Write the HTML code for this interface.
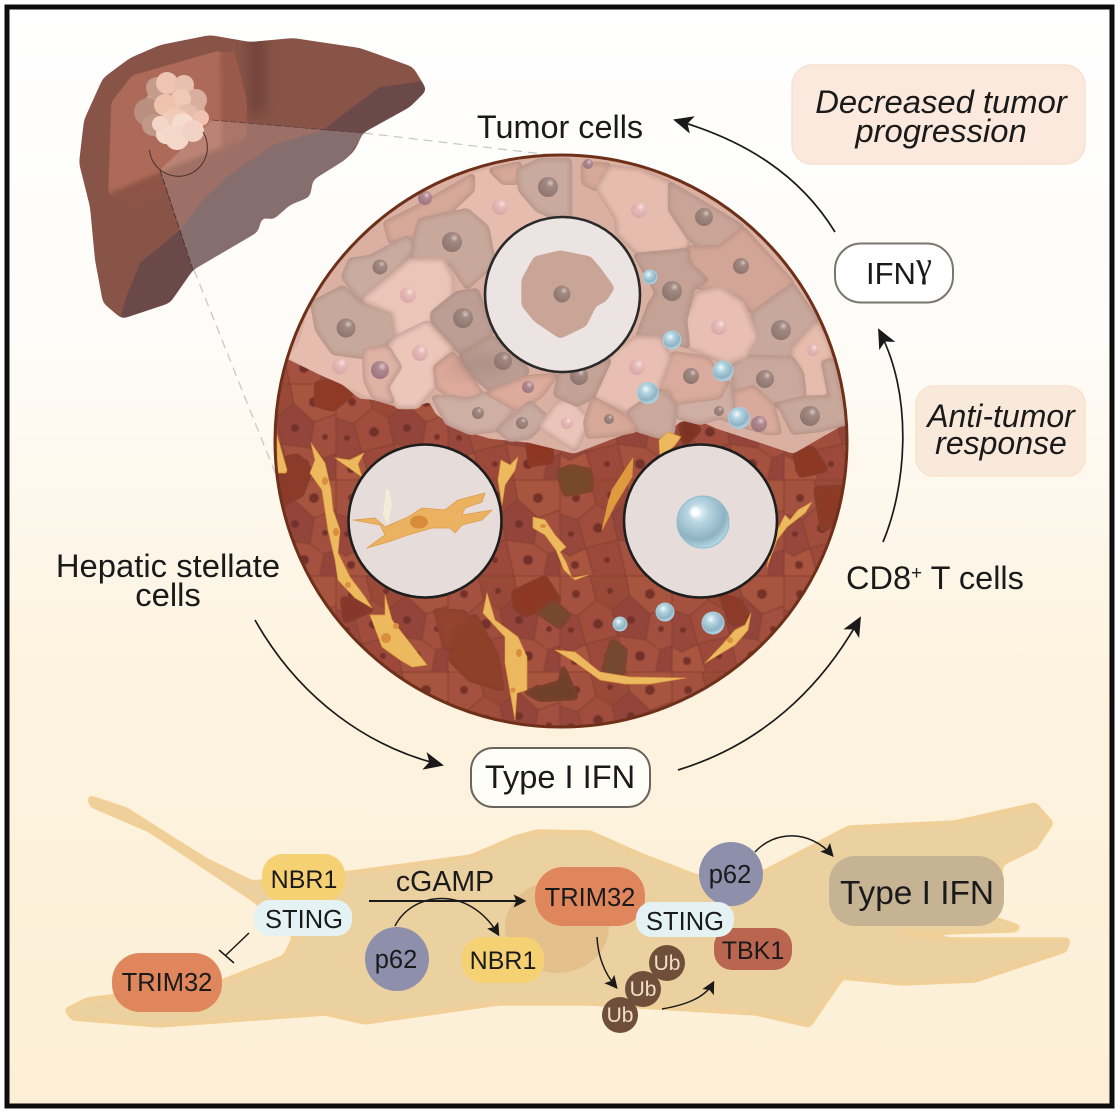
<!DOCTYPE html>
<html><head><meta charset="utf-8"><style>
html,body{margin:0;padding:0;background:#fff}
svg{display:block}
text{font-family:"Liberation Sans",Arial,sans-serif;fill:#1a1a1a}
.n{text-anchor:middle;font-size:25.5px}
.g{filter:url(#goo)}
.u{fill:#f2dfc4;font-size:21px;text-anchor:middle}
</style></head><body>
<svg width="1120" height="1116" viewBox="0 0 1120 1116" xmlns="http://www.w3.org/2000/svg">
<defs>
<linearGradient id="bg" x1="0" y1="0" x2="0" y2="1"><stop offset="0" stop-color="#ffffff"/><stop offset=".3" stop-color="#fefcf8"/><stop offset=".6" stop-color="#fdf3e0"/><stop offset="1" stop-color="#fdefd6"/></linearGradient>
<clipPath id="cc"><circle cx="561" cy="441" r="286"/></clipPath>
<filter id="goo" x="-10%" y="-10%" width="120%" height="120%" color-interpolation-filters="sRGB"><feGaussianBlur stdDeviation="2"/><feColorMatrix type="matrix" values="1 0 0 0 0 0 1 0 0 0 0 0 1 0 0 0 0 0 14 -2.5"/></filter>
<filter id="goo2" x="-10%" y="-10%" width="120%" height="120%" color-interpolation-filters="sRGB"><feGaussianBlur stdDeviation="3.5"/><feColorMatrix type="matrix" values="1 0 0 0 0 0 1 0 0 0 0 0 1 0 0 0 0 0 18 -8.5"/></filter>
<mask id="liverm" maskUnits="userSpaceOnUse" x="0" y="0" width="1120" height="1116"><path filter="url(#goo2)" fill="#fff" d="M79 163L84 120L103 78L130 58L160 45L210 35L250 42L293 38L360 48L413 67L427 90L410 107L363 133L355 150L345 160L313 180L310 197L290 205L273 220L262 217L258 232L193 270L170 303L122 319L103 303L95 260L90 207Z"/></mask>
<marker id="ab" viewBox="0 0 10 10" refX="9" refY="5" markerWidth="20" markerHeight="20" orient="auto" markerUnits="userSpaceOnUse"><path d="M0 0.5L10 5L0 9.5L2.5 5Z" fill="#1a1a1a"/></marker>
<marker id="am" viewBox="0 0 10 10" refX="8" refY="5" markerWidth="13" markerHeight="13" orient="auto" markerUnits="userSpaceOnUse"><path d="M0 0L10 5L0 10L2 5Z" fill="#1a1a1a"/></marker>
<pattern id="lc" width="112" height="96" patternUnits="userSpaceOnUse">
<rect width="112" height="96" fill="#9f4c3d"/>
<g stroke="#84402f" stroke-width="1">
<polygon points="0,0 30,0 36,24 18,40 0,34" fill="#a5513f"/>
<polygon points="30,0 66,0 70,20 52,34 36,24" fill="#9a4838"/>
<polygon points="66,0 112,0 112,30 90,38 70,20" fill="#a8553f"/>
<polygon points="0,34 18,40 26,68 10,76 0,70" fill="#97473a"/>
<polygon points="18,40 36,24 52,34 58,60 26,68" fill="#a14e3e"/>
<polygon points="52,34 70,20 90,38 86,64 58,60" fill="#93443a"/>
<polygon points="90,38 112,30 112,70 100,74 86,64" fill="#a35040"/>
<polygon points="0,70 10,76 26,68 34,96 0,96" fill="#a9553f"/>
<polygon points="26,68 58,60 66,96 34,96" fill="#9c4a3a"/>
<polygon points="58,60 86,64 100,74 96,96 66,96" fill="#a5513f"/>
<polygon points="100,74 112,70 112,96 96,96" fill="#94453a"/>
</g>
<g fill="#74322a"><circle cx="16" cy="18" r="4"/><circle cx="50" cy="15" r="3"/><circle cx="90" cy="18" r="5"/><circle cx="11" cy="54" r="3"/><circle cx="38" cy="48" r="5"/><circle cx="71" cy="44" r="4"/><circle cx="101" cy="53" r="3"/><circle cx="15" cy="85" r="4"/><circle cx="47" cy="80" r="3"/><circle cx="80" cy="80" r="5"/></g>
</pattern>
<radialGradient id="bub" cx=".4" cy=".32" r=".7"><stop offset="0" stop-color="#f4fbfd"/><stop offset=".3" stop-color="#b4d4e0"/><stop offset=".75" stop-color="#8fb2c2"/><stop offset="1" stop-color="#b9dce8"/></radialGradient>
<radialGradient id="nu" cx=".62" cy=".3" r=".8"><stop offset="0" stop-color="#d6c6c0"/><stop offset=".25" stop-color="#a28a82"/><stop offset="1" stop-color="#8a706a"/></radialGradient>
<radialGradient id="np" cx=".62" cy=".3" r=".8"><stop offset="0" stop-color="#f6e2de"/><stop offset=".3" stop-color="#e6bcb8"/><stop offset="1" stop-color="#d9a2a4"/></radialGradient>
<radialGradient id="nd" cx=".62" cy=".3" r=".8"><stop offset="0" stop-color="#e0c8cc"/><stop offset=".3" stop-color="#b08a90"/><stop offset="1" stop-color="#9a707a"/></radialGradient>
<filter id="soft" x="-100%" y="-30%" width="300%" height="160%"><feGaussianBlur stdDeviation="7"/></filter>
<filter id="s1"><feGaussianBlur stdDeviation=".5"/></filter>
</defs>

<rect x="0" y="0" width="1120" height="1116" fill="#fff"/>
<rect x="7" y="7" width="1105" height="1099" fill="url(#bg)" stroke="#0d0d0d" stroke-width="5"/>

<!-- boxes -->
<rect x="792" y="65" width="293" height="99" rx="20" fill="#fbe9dd" stroke="#f6e2d0" stroke-width="1.5"/>
<rect x="916" y="386" width="169" height="90" rx="18" fill="#f9e9db" stroke="#f9e2cb" stroke-width="1.5"/>

<!-- dashed guides -->
<path d="M364 133L560 156" stroke="#c9c5bd" stroke-width="1.2" stroke-dasharray="9 6" fill="none"/>
<path d="M194 270L288 505" stroke="#c9c5bd" stroke-width="1.2" stroke-dasharray="9 6" fill="none"/>

<!-- liver -->
<g mask="url(#liverm)">
<rect x="60" y="20" width="390" height="310" fill="#885448"/>
<rect x="250" y="20" width="14" height="95" fill="#6d4039" filter="url(#soft)"/>
<path d="M119 325L125 300L140 263L180 230L245 190L323 130L353 107L380 87L430 80L430 110L363 140L193 275L170 320Z" fill="#6c4949"/>
<g filter="url(#goo)">
<polygon points="110,193 113,103 133,77 233,52 245,100 245,137 137,207" fill="#9a5a4b"/>
<polygon points="110,193 113,103 133,77 220,52 222,147" fill="#ad6a58"/>
<polygon points="110,193 222,147 245,137 137,207" fill="#8e5446"/>
</g>
<polygon points="362,133 212,120 160,170 193,270 300,205 340,160" fill="#fff" opacity=".17"/>
<path d="M323 130L273 145L227 177L203 200L180 230L193 272L260 235L270 222L320 195L365 133Z" fill="#866d6e"/>
</g>
<!-- tumour -->
<circle cx="174" cy="112" r="31" fill="#cfa695"/>
<circle cx="148" cy="112" r="14" fill="#b98f80"/>
<circle cx="153" cy="125" r="11" fill="#c09888"/>
<circle cx="157" cy="88" r="11" fill="#c49c8c"/>
<circle cx="167" cy="83" r="11" fill="#efc4b2"/>
<circle cx="184" cy="85" r="10" fill="#e8c0b0"/>
<circle cx="196" cy="100" r="11" fill="#d8ae9e"/>
<circle cx="181" cy="99" r="10" fill="#f0c8b6"/>
<circle cx="165" cy="105" r="11" fill="#efc2ae"/>
<circle cx="187" cy="116" r="12" fill="#e6bcaa"/>
<circle cx="175" cy="122" r="14" fill="#f2cbb8"/>
<circle cx="201" cy="118" r="8" fill="#efc1ae"/>
<circle cx="166" cy="134" r="10" fill="#f5dacc"/>
<circle cx="183" cy="124" r="11" fill="#f6dccf"/>
<circle cx="177" cy="138" r="12" fill="#f3d8ca"/>
<circle cx="193" cy="131" r="11" fill="#f1d2c4"/>
<circle cx="160" cy="124" r="8" fill="#f4d6c8"/>
<path d="M203 132A29 29 0 1 1 149.5 150" fill="none" stroke="#4a2f2a" stroke-width="1"/>
<path d="M212 120L362 133" stroke="#5c403c" stroke-width=".8" stroke-dasharray="7 2"/>
<path d="M160 170L193 270" stroke="#3f2c2a" stroke-width=".8" stroke-dasharray="7 2"/>

<!-- main circle -->
<g clip-path="url(#cc)">
<rect x="270" y="140" width="590" height="600" fill="url(#lc)" filter="url(#s1)"/>
<g stroke="#84402f" stroke-width="1" class="g">
<polygon points="278,460 298,455 311,470 302,495 280,506" fill="#8c3a2a"/>
<polygon points="316,383 340,380 352,395 333,410 316,405" fill="#8f3a24"/>
<polygon points="527,440 551,438 552,462 530,465" fill="#8e3622"/>
<polygon points="557,472 570,466 590,470 592,490 565,495" fill="#77492c"/>
<polygon points="513,592 545,577 560,600 525,616 515,608" fill="#8c3822"/>
<polygon points="537,612 552,600 570,615 560,628" fill="#76492f"/>
<polygon points="435,610 465,612 470,630 445,650" fill="#94432f"/>
<polygon points="455,630 475,615 497,655 503,690 470,680 450,660" fill="#8f4029"/>
<polygon points="603,670 612,640 626,650 623,674" fill="#74492f"/>
<polygon points="525,692 560,682 563,666 577,698 540,700" fill="#6f4029"/>
<polygon points="794,455 812,447 827,470 800,476" fill="#8c3722"/>
<polygon points="815,488 842,487 845,520 822,530" fill="#8c3a25"/>
<polygon points="342,598 365,600 372,610 345,622" fill="#87372a"/>
<polygon points="680,425 690,418 700,430 685,445" fill="#7e3220"/>
<polygon points="720,595 740,600 750,620 732,625" fill="#8d3a28"/>
</g>

<!-- tumour area -->
<path d="M270 140H860V422L845 422L793 452L757 440L717 427L697 418L680 420L660 437L638 428L613 437L574 452L529 441L490 437L457 427L437 413L430 400L407 408L373 398L360 397L343 383L320 373L287 357L270 350Z" fill="#d9b0a2" class="g"/>
<polygon class="g" points="300,345 312,303 360,303 362,300 397,337 388,350 364,350 365,380 373,397 343,383 320,373 290,357" fill="#e6bcae"/>
<polygon class="g" points="473,175 490,170 503,183 517,183 520,190 537,210 553,217 530,225 493,257 487,227 467,210 450,212 473,190" fill="#e6bcae"/>
<g stroke="#ab877c" stroke-width="1">
<polygon class="g" points="385,223 417,207 473,175 473,190 450,212 420,220 415,237 390,242" fill="#d6a898"/>
<polygon class="g" points="490,170 520,163 517,183 503,183" fill="#d6a898"/>
<polygon class="g" points="518,170 540,160 570,160 570,217 553,217 537,210 520,190" fill="#caaa9e"/>
<polygon class="g" points="583,163 610,165 597,190 583,183" fill="#d6a898"/>
<polygon class="g" points="343,277 350,260 370,257 407,237 415,247 397,270 360,300" fill="#c9aba0"/>
<polygon class="g" points="415,237 420,220 467,210 487,227 493,257 490,267 467,288 450,263 412,260" fill="#c9a89c"/>
<polygon class="g" points="312,303 343,287 360,303 393,313 397,337 363,357 333,353 317,330" fill="#c7a99b"/>
<polygon class="g" points="362,300 410,260 443,260 452,277 452,295 432,313 430,323 397,337 393,313" fill="#ebc6b8"/>
<polygon class="g" points="432,313 457,293 477,290 490,327 493,333 460,353 433,323" fill="#bd9e94"/>
<polygon class="g" points="460,355 493,337 528,370 523,380 490,390 470,373" fill="#bd9e94"/>
<polygon class="g" points="388,347 397,337 427,322 453,350 433,367 435,387 417,407 397,407 387,387 400,367" fill="#ecc6b9"/>
<polygon class="g" points="364,350 388,347 400,367 387,387 393,403 373,397 365,380" fill="#dfb2a6"/>
<polygon class="g" points="435,367 453,353 483,395 467,400 450,397 437,387" fill="#dca99a"/>
<polygon class="g" points="433,397 450,397 467,400 487,393 515,407 497,430 470,433 447,423" fill="#cfaea3"/>
<polygon class="g" points="487,393 528,377 557,375 540,397 517,410" fill="#dcab9b"/>
<polygon class="g" points="497,430 530,402 547,417 537,430 530,437 510,440" fill="#c9aaa0"/>
<polygon class="g" points="540,427 557,403 570,400 590,420 575,450" fill="#eac4b8"/>
<polygon class="g" points="597,188 610,167 640,170 670,183 670,210 688,237 688,247 660,255 637,253 617,233 617,220" fill="#e6bcae"/>
<polygon class="g" points="670,183 743,227 720,247 700,248 688,237 670,210" fill="#c9a598"/>
<polygon class="g" points="688,247 700,248 720,247 743,228 793,283 753,313 740,297 707,288 693,287 707,280 693,272 690,262" fill="#d3a597"/>
<polygon class="g" points="753,313 793,285 817,320 793,347 790,358 743,357 755,340" fill="#c8a89c"/>
<polygon class="g" points="793,348 817,322 827,340 832,358 822,362 830,397 803,398 800,367 792,358" fill="#e6bcae"/>
<polygon class="g" points="732,367 745,357 792,358 802,373 805,400 773,405 753,387 735,392" fill="#caa89d"/>
<polygon class="g" points="773,405 803,398 830,397 823,362 833,360 847,423 820,430 793,433 780,407" fill="#c9a89c"/>
<polygon class="g" points="735,393 753,387 773,405 780,433 767,433 733,423" fill="#d9aa9b"/>
<polygon class="g" points="677,403 730,382 735,423 720,417 700,423 677,417" fill="#cfaea3"/>
<polygon class="g" points="658,390 673,353 707,358 727,383 720,397 675,403 670,390" fill="#d9ab9c"/>
<polygon class="g" points="685,320 697,293 720,288 743,303 757,337 745,357 727,363 688,347" fill="#e8bfb2"/>
<polygon class="g" points="637,337 650,303 657,293 635,255 688,250 688,262 707,280 693,288 685,320 688,347 670,340 660,338" fill="#c4a296"/>
<polygon class="g" points="593,397 612,353 637,337 660,338 670,357 658,390 628,412" fill="#e8bfb2"/>
<polygon class="g" points="560,373 610,360 593,397 577,405 555,395" fill="#c4a296"/>
<polygon class="g" points="628,412 660,390 675,403 673,433 660,437 637,430" fill="#caa89c"/>
<polygon class="g" points="585,423 593,398 627,417 637,430 613,435 588,437" fill="#d6a898"/>
</g>
<g fill="url(#nu)">
<circle cx="346" cy="328" r="9.5"/><circle cx="380" cy="267" r="7.5"/><circle cx="452" cy="242" r="10"/><circle cx="463" cy="318" r="10"/><circle cx="503" cy="361" r="9"/><circle cx="478" cy="413" r="6"/><circle cx="522" cy="423" r="6"/><circle cx="548" cy="187" r="10"/><circle cx="704" cy="217" r="9"/><circle cx="741" cy="266" r="8"/><circle cx="781" cy="330" r="10"/><circle cx="765" cy="379" r="9"/><circle cx="810" cy="416" r="10"/><circle cx="719" cy="411" r="5"/><circle cx="691" cy="376" r="8"/><circle cx="672" cy="291" r="10"/><circle cx="579" cy="376" r="9"/><circle cx="609" cy="419" r="5"/>
</g>
<g fill="url(#np)">
<circle cx="408" cy="295" r="8"/><circle cx="420" cy="353" r="8"/><circle cx="340" cy="366" r="8"/><circle cx="500" cy="207" r="8"/><circle cx="567" cy="423" r="6"/><circle cx="639" cy="210" r="8"/><circle cx="719" cy="327" r="8"/><circle cx="637" cy="367" r="8"/><circle cx="813" cy="350" r="6"/>
</g>
<g fill="url(#nd)">
<circle cx="380" cy="370" r="9"/><circle cx="425" cy="198" r="7"/><circle cx="528" cy="387" r="6"/><circle cx="588" cy="164" r="5"/><circle cx="759" cy="424" r="8"/>
</g>
<ellipse cx="480" cy="365" rx="30" ry="12" fill="#8c6f68" opacity=".25" filter="url(#soft)"/>

<!-- stellate cells -->
<g fill="#ecb95f" stroke="#d9973f" stroke-width=".7" stroke-linejoin="round">
<path d="M311 443L325 463L331 490L333 510L340 530L338 553L350 577L365 597L372 608L355 598L338 580L335 560L328 530L323 497L322 490L310 473L315 460Z"/>
<path d="M277 435L287 470L286 473L277 473Z"/>
<path d="M335 458L350 460L364 453L358 464L362 477L352 470Z"/>
<path d="M385 595L392 620L427 665L412 667L400 660L382 647L370 615L385 615Z"/>
<path d="M487 593L483 613L505 637L505 663L515 720L517 693L527 690L527 657L518 637L495 620Z"/>
<path d="M555 650L575 652L600 672L630 677L686 678L650 684L625 684L600 680L575 662Z"/>
<path d="M533 517L545 520L555 535L566 547L560 552L566 562L572 578L588 575L575 580L564 570L556 550L545 535L533 528Z"/>
<path d="M633 458L632 477L615 505L602 530L608 503L612 490L625 470Z" fill="#e09a3e"/>
<path d="M659 440L668 432L681 437L675 445L660 460Z"/>
<path d="M501 460L510 465L518 457L515 470L505 485L502 505L498 480Z"/>
<path d="M812 502L805 513L787 527L777 540L767 567L772 540L780 525L785 515L790 520L798 510Z"/>
<path d="M751 613L748 630L735 645L705 663L722 645L735 630L745 625Z"/>
</g>
<g fill="#d98f3e"><ellipse cx="325" cy="481" rx="3" ry="4"/><ellipse cx="336" cy="532" rx="3" ry="4"/><ellipse cx="386" cy="638" rx="5" ry="5"/><ellipse cx="396" cy="626" rx="3" ry="3"/><ellipse cx="519" cy="653" rx="3" ry="4"/><ellipse cx="513" cy="690" rx="2.5" ry="2.5"/><ellipse cx="543" cy="526" rx="3" ry="2"/><ellipse cx="348" cy="585" rx="3" ry="3"/><ellipse cx="730" cy="640" rx="3" ry="3"/></g>
</g>

<circle cx="561" cy="441" r="286" fill="none" stroke="#6f3019" stroke-width="3"/>

<!-- magnifier circles -->
<circle cx="562.5" cy="294.5" r="77.5" fill="#ece4e2" stroke="#2a2a2a" stroke-width="2.6"/>
<path d="M523 280L535 258L560 252L590 258L600 270L613 288L605 300L595 305L585 325L560 337L535 320L523 305Z" fill="#c9a597" class="g"/>
<circle cx="562" cy="294" r="8.5" fill="url(#nu)"/>
<circle cx="425" cy="521" r="76.5" fill="#e6dcda" stroke="#1e1e1e" stroke-width="2.6"/>
<path d="M353 520L375 518L385 527L408 517L422 508L445 510L458 500L485 493L482 502L465 508L462 515L492 510L482 520L462 525L455 533L450 528L432 528L408 535L388 542L367 548L385 535L380 525Z" fill="#ebb262" stroke="#dd9c4a" stroke-width=".8" stroke-linejoin="round"/>
<ellipse cx="419" cy="522" rx="9" ry="6.5" fill="#d78c3a"/>
<path d="M386 488L390 492L392 505L388 525L383 515Z" fill="#f5ecd8"/>
<circle cx="700.5" cy="521" r="76.5" fill="#e6dcda" stroke="#1e1e1e" stroke-width="2.6"/>
<circle cx="703" cy="522" r="26" fill="url(#bub)" stroke="#8dbbcf" stroke-width="1"/>
<circle cx="695" cy="512" r="5" fill="#fff" opacity=".85" filter="url(#s1)"/>

<!-- bubbles -->
<g fill="url(#bub)" stroke="#a5cede" stroke-width="1">
<circle cx="650" cy="277" r="7"/><circle cx="672" cy="340" r="9"/><circle cx="723" cy="371" r="10"/><circle cx="648" cy="393" r="10.5"/><circle cx="739" cy="418" r="10.5"/><circle cx="665" cy="612" r="9"/><circle cx="713" cy="623" r="11"/><circle cx="620" cy="624" r="7"/>
</g>

<!-- text top -->
<text x="560" y="138" text-anchor="middle" font-size="32.4">Tumor cells</text>
<text x="941" y="113" text-anchor="middle" font-size="32.8" font-style="italic">Decreased tumor</text>
<text x="941" y="142" text-anchor="middle" font-size="32.8" font-style="italic">progression</text>
<text x="1001" y="427" text-anchor="middle" font-size="32" font-style="italic">Anti-tumor</text>
<text x="1001" y="454" text-anchor="middle" font-size="32" font-style="italic">response</text>
<text x="168" y="577" text-anchor="middle" font-size="32.8">Hepatic stellate</text>
<text x="168" y="606" text-anchor="middle" font-size="32.8">cells</text>
<text x="846" y="589" font-size="32.5">CD8<tspan font-size="19" dy="-10">+</tspan><tspan dy="10"> T cells</tspan></text>

<rect x="835" y="243.5" width="118" height="59" rx="26" fill="#fff" stroke="#7a766e" stroke-width="2"/>
<text x="866" y="284" font-size="31">IFN</text>
<text x="916" y="277" font-size="36" style="font-family:'Liberation Serif',serif">γ</text>
<rect x="471" y="748" width="179" height="59" rx="22" fill="#fffdf8" stroke="#6a655c" stroke-width="2"/>
<text x="560" y="788" text-anchor="middle" font-size="32.6">Type I IFN</text>

<!-- arrows -->
<g fill="none" stroke="#1a1a1a" stroke-width="1.7">
<path d="M255 620C300 700 370 748 442 765" marker-end="url(#ab)"/>
<path d="M678 770C760 745 820 690 860 618" marker-end="url(#ab)"/>
<path d="M883 542C905 490 915 400 879 330" marker-end="url(#ab)"/>
<path d="M835 232C800 175 745 140 675 120" marker-end="url(#ab)"/>
</g>

<!-- bottom cell -->
<path class="g" d="M90 798L126 810L205 860L252 883L352 873L471 857L515 838L537 832L590 833L640 855L697 877L763 873L849 828L955 823L1035 805L1051 823L1035 847L1002 863L988 917L1018 927L1015 930L902 933L949 940L1068 940L1065 950L975 980L902 983L842 977L809 1025L756 1013L590 1003L498 1003L365 1022L325 1013L159 1025L73 1018L67 1010L87 1000L219 983L285 957L295 937L255 900L150 830L92 805Z" fill="#ecd1a0" stroke="#f3cf93" stroke-width="2" stroke-linejoin="round"/>
<ellipse cx="557" cy="927" rx="52" ry="46" fill="#e4c08c"/>

<rect x="262" y="854" width="83" height="48" rx="21" fill="#f6d174"/>
<rect x="254" y="900" width="98" height="36" rx="16" fill="#e4f2f4"/>
<text class="n" x="304" y="888" style="font-size:25px">NBR1</text>
<text class="n" x="304" y="928">STING</text>
<rect x="112" y="953" width="110" height="59" rx="28" fill="#e0865c"/>
<text class="n" x="167" y="991">TRIM32</text>
<circle cx="397" cy="959" r="32" fill="#8e8fab"/>
<text class="n" x="396" y="968">p62</text>
<rect x="462" y="937" width="82" height="46" rx="21" fill="#f6d174"/>
<text class="n" x="503" y="969" style="font-size:25px">NBR1</text>
<rect x="535" y="867" width="110" height="59" rx="28" fill="#e0865c"/>
<text class="n" x="590" y="906">TRIM32</text>
<circle cx="731" cy="874" r="32" fill="#8e8fab"/>
<rect x="714" y="928" width="78" height="42" rx="18" fill="#b9654f"/>
<text class="n" x="753" y="959" style="font-size:25px">TBK1</text>
<rect x="636" y="902" width="98" height="35" rx="16" fill="#e4f2f4"/>
<text class="n" x="685" y="930">STING</text>
<text class="n" x="730" y="883">p62</text>
<rect x="829" y="856" width="175" height="70" rx="26" fill="#c5b394"/>
<text x="917" y="904" text-anchor="middle" font-size="33.4">Type I IFN</text>
<g fill="#6f4f3a"><circle cx="667" cy="963" r="18"/><circle cx="643" cy="989" r="18"/><circle cx="620" cy="1015" r="18"/></g>
<text class="u" x="667" y="970">Ub</text><text class="u" x="643" y="996">Ub</text><text class="u" x="620" y="1022">Ub</text>

<text x="445" y="891" text-anchor="middle" font-size="28.5">cGAMP</text>
<g fill="none" stroke="#1a1a1a" stroke-width="1.5">
<path d="M369 901H524" stroke-width="2" marker-end="url(#am)"/>
<path d="M395 926C412 892 468 884 498 934" marker-end="url(#am)"/>
<path d="M597 937C598 958 606 975 616 987" marker-end="url(#am)"/>
<path d="M662 1009C685 1005 705 998 713 983" marker-end="url(#am)"/>
<path d="M755 852C775 830 810 830 832 855" marker-end="url(#am)"/>
<path d="M249 933L226 955M219 950L234 963"/>
</g>
</svg>
</body></html>
